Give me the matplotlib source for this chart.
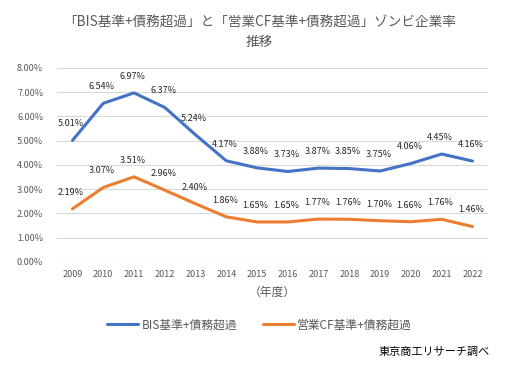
import matplotlib.pyplot as plt
from matplotlib.ticker import FuncFormatter

plt.rcParams['font.family'] = ['Noto Sans CJK JP', 'DejaVu Sans']

years = ["2009", "2010", "2011", "2012", "2013", "2014", "2015",
         "2016", "2017", "2018", "2019", "2020", "2021", "2022"]
bis = [5.01, 6.54, 6.97, 6.37, 5.24, 4.17, 3.88, 3.73, 3.87, 3.85, 3.75, 4.06, 4.45, 4.16]
cf = [2.19, 3.07, 3.51, 2.96, 2.40, 1.86, 1.65, 1.65, 1.77, 1.76, 1.70, 1.66, 1.76, 1.46]

blue = "#4472C4"
orange = "#ED7D31"
grey = "#595959"

fig = plt.figure(figsize=(5.19, 3.69), dpi=100)
ax = fig.add_axes([0.110, 0.290, 0.830, 0.526])

x = list(range(len(years)))
ax.plot(x, bis, color=blue, lw=2.2, label="BIS基準+債務超過", solid_capstyle="round")
ax.plot(x, cf, color=orange, lw=2.2, label="営業CF基準+債務超過", solid_capstyle="round")

for xi, v in zip(x, bis):
    ax.annotate(f"{v:.2f}%", (xi, v), xytext=(-1, 12), textcoords="offset points",
                ha="center", va="center", fontsize=6.5, color="#262626")
for xi, v in zip(x, cf):
    ax.annotate(f"{v:.2f}%", (xi, v), xytext=(-1, 12), textcoords="offset points",
                ha="center", va="center", fontsize=6.5, color="#262626")

ax.set_xlim(-0.5, len(years) - 0.5)
ax.set_ylim(0, 8)
ax.set_yticks(range(0, 9))
ax.yaxis.set_major_formatter(FuncFormatter(lambda v, p: f"{v:.2f}%"))
ax.set_xticks(x)
ax.set_xticklabels(years)
ax.tick_params(length=0, labelsize=6.5, colors=grey)
ax.tick_params(axis="y", pad=10)
ax.tick_params(axis="x", pad=6)
ax.grid(axis="y", color="#D9D9D9", lw=0.8)
ax.set_axisbelow(True)
for s in ax.spines.values():
    s.set_visible(False)
ax.set_xlabel("（年度）", fontsize=8.5, color=grey, labelpad=5)

fig.text(0.5, 0.913, "「BIS基準+債務超過」と「営業CF基準+債務超過」ゾンビ企業率\n推移",
         ha="center", va="center", multialignment="center",
         fontsize=9.8, color=grey, linespacing=1.45)

fig.legend(loc="center", bbox_to_anchor=(0.5, 0.119), ncol=2, frameon=False,
           fontsize=8.5, labelcolor=grey, handlelength=2.6, handletextpad=0.3,
           columnspacing=2.2)

fig.text(0.944, 0.046, "東京商工リサーチ調べ", ha="right", va="center", fontsize=8, color="black")

fig.savefig("out.png", dpi=100)
